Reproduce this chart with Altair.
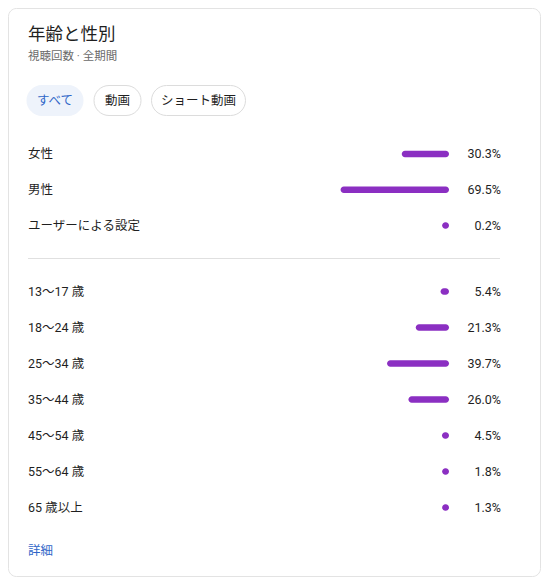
import altair as alt
import pandas as pd

# ---------------- data ----------------
title_text = "年齢と性別"
subtitle_text = "視聴回数 · 全期間"
chip_labels = ["すべて", "動画", "ショート動画"]
link_text = "詳細"

gender_labels = ["女性", "男性", "ユーザーによる設定"]
gender_values = [30.3, 69.5, 0.2]

age_labels = ["13〜17 歳", "18〜24 歳", "25〜34 歳", "35〜44 歳",
              "45〜54 歳", "55〜64 歳", "65 歳以上"]
age_values = [5.4, 21.3, 39.7, 26.0, 4.5, 1.8, 1.3]

# ---------------- layout / style ----------------
W, H = 533, 569
FONT = "Roboto, 'Noto Sans CJK JP', sans-serif"
PURPLE = "#8b2fc2"
TEXT = "#1f1f1f"
GREY = "#6a6a6a"
BLUE = "#2f66c8"
LEFT = 20
BAR_END = 441
PX_PER_PCT = 1.56
MIN_BAR_PCT = 4.4   # minimum drawn length (a round dot), in % units
PCT_RIGHT = 493
chip_x0 = [19, 86, 143.5]
chip_x1 = [75, 133, 237.5]
chip_fill = ["#eef3fb", "#ffffff", "#ffffff"]
chip_stroke = ["#eef3fb", "#dcdcdc", "#dcdcdc"]
chip_color = [BLUE, TEXT, TEXT]

x_scale = alt.Scale(domain=[0, 100], range=[BAR_END, BAR_END - 100 * PX_PER_PCT],
                    nice=False, zero=False)

one = pd.DataFrame({"k": [0]})

card = alt.Chart(one).mark_rect(
    fill="white", stroke="#e3e3e3", strokeWidth=1, cornerRadius=8
).encode(x=alt.value(0.5), x2=alt.value(532.5), y=alt.value(0.5), y2=alt.value(568.5))

title = alt.Chart(one).mark_text(
    text=title_text, align="left", baseline="middle", font=FONT, fontSize=17.5, color=TEXT
).encode(x=alt.value(LEFT), y=alt.value(27))

subtitle = alt.Chart(one).mark_text(
    text=subtitle_text, align="left", baseline="middle", font=FONT, fontSize=11.5, color=GREY
).encode(x=alt.value(LEFT), y=alt.value(48.5))

chips_df = pd.DataFrame({
    "label": chip_labels,
    "x0": chip_x0,
    "x1": chip_x1,
    "fill": chip_fill,
    "stroke": chip_stroke,
    "color": chip_color,
})
chips_df["xc"] = (chips_df["x0"] + chips_df["x1"]) / 2

chip_rects = alt.Chart(chips_df).mark_rect(cornerRadius=15, strokeWidth=1).encode(
    x=alt.X("x0:Q", scale=None),
    x2="x1:Q",
    y=alt.value(77.5),
    y2=alt.value(107.5),
    fill=alt.Fill("fill:N", scale=None),
    stroke=alt.Stroke("stroke:N", scale=None),
)
chip_text = alt.Chart(chips_df).mark_text(
    align="center", baseline="middle", font=FONT, fontSize=12.5
).encode(
    x=alt.X("xc:Q", scale=None),
    y=alt.value(92.5),
    text="label:N",
    color=alt.Color("color:N", scale=None),
)

divider = alt.Chart(one).mark_rule(color="#e0e0e0", strokeWidth=1).encode(
    x=alt.value(LEFT), x2=alt.value(492), y=alt.value(250.5)
)

link = alt.Chart(one).mark_text(
    text=link_text, align="left", baseline="middle", font=FONT, fontSize=12.5, color=BLUE
).encode(x=alt.value(LEFT), y=alt.value(543))


def group(labels, values, y_range):
    df = pd.DataFrame({"label": labels, "value": values})
    y_enc = alt.Y("label:N", sort=labels, axis=None,
                  scale=alt.Scale(type="point", domain=labels, range=y_range, padding=0))
    base = alt.Chart(df)
    bars = base.transform_calculate(
        shown=f"max(datum.value, {MIN_BAR_PCT})"
    ).mark_bar(size=6.5, cornerRadius=3.25, color=PURPLE).encode(
        x=alt.X("shown:Q", scale=x_scale, axis=None),
        x2=alt.datum(0),
        y=y_enc,
    )
    labels_t = base.mark_text(
        align="left", baseline="middle", font=FONT, fontSize=12.5, color=TEXT
    ).encode(x=alt.value(LEFT), y=y_enc, text="label:N")
    pct = base.transform_calculate(
        pct="format(datum.value, '.1f') + '%'"
    ).mark_text(
        align="right", baseline="middle", font=FONT, fontSize=12.5, color=TEXT
    ).encode(x=alt.value(PCT_RIGHT), y=y_enc, text="pct:N")
    return alt.layer(bars, labels_t, pct)


gender = group(gender_labels, gender_values, [146, 217.6])
age = group(age_labels, age_values, [283.6, 499.5])

chart = alt.layer(
    card, title, subtitle, chip_rects, chip_text, divider, link, gender, age
).resolve_scale(y="independent").properties(
    width=W, height=H, padding=0,
    autosize=alt.AutoSizeParams(type="none"),
    background="white",
).configure_view(strokeWidth=0)

chart.save("out.html", embed_options={"renderer": "svg", "actions": False})
